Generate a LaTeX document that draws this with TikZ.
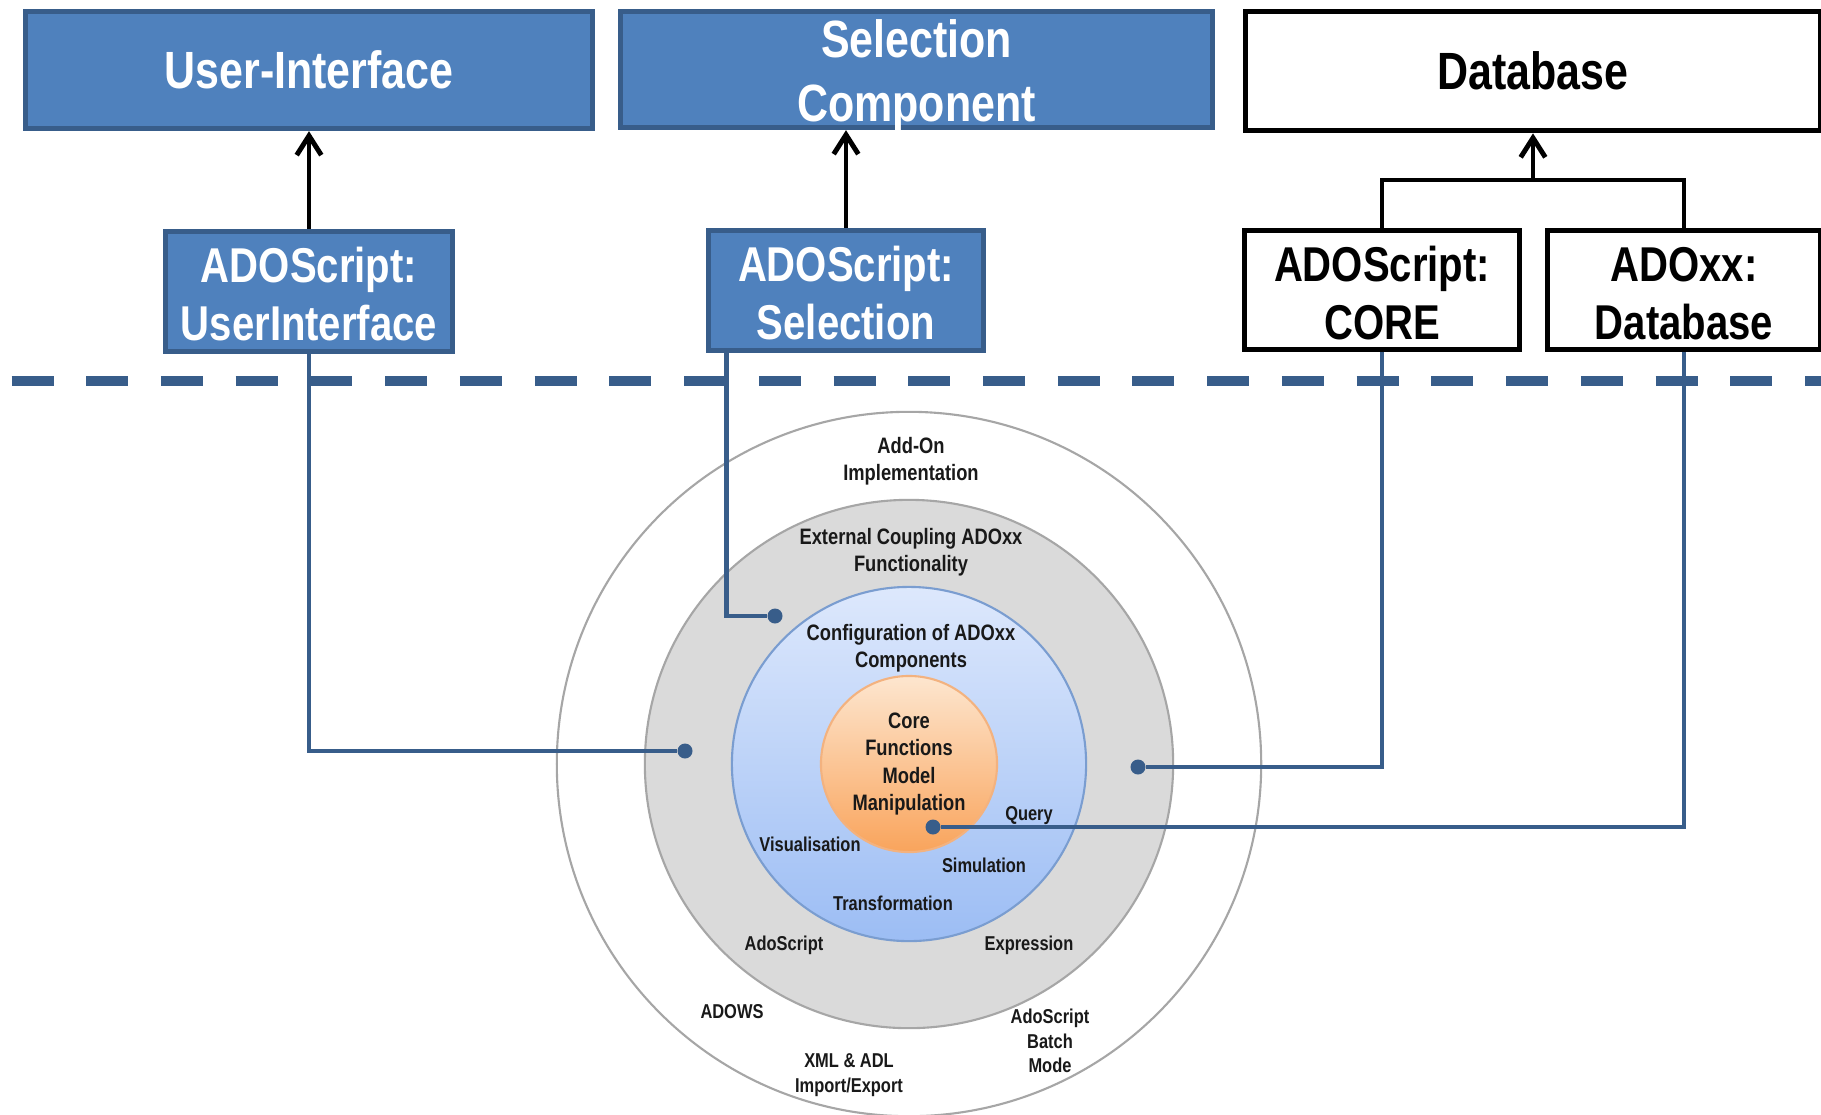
\documentclass[tikz,border=0pt]{standalone}
\usepackage{fontspec}
\usetikzlibrary{arrows.meta}
\newfontfamily\narrowsans[FakeStretch=0.82]{Liberation Sans}
\definecolor{boxblue}{HTML}{4F81BD}
\definecolor{boxedge}{HTML}{385D8A}
\definecolor{ringgray}{HTML}{DADADA}
\definecolor{ringedge}{HTML}{A6A6A6}
\definecolor{bluetop}{HTML}{DDE8FC}
\definecolor{bluebot}{HTML}{9CBDF4}
\definecolor{blueedge}{HTML}{7A9DD0}
\definecolor{coretop}{HTML}{FDE6CF}
\definecolor{corebot}{HTML}{F9A45C}
\definecolor{coreedge}{HTML}{F3B27F}
\newcommand\headfont{\narrowsans\bfseries\fontsize{14.9}{18.2}\selectfont}
\newcommand\partfont{\narrowsans\bfseries\fontsize{13.9}{16.5}\selectfont}
\newcommand\ringfont{\narrowsans\bfseries\fontsize{6.35}{7.7}\selectfont}
\newcommand\ringsmallfont{\narrowsans\bfseries\fontsize{5.7}{6.9}\selectfont}

\begin{document}
\begin{tikzpicture}[x=0.01cm, y=-0.01cm,
  bluebox/.style={draw=boxedge, fill=boxblue, line width=1.5pt, text=white, align=center, inner sep=0pt},
  whitebox/.style={draw=black, fill=white, line width=1.6pt, align=center, inner sep=0pt},
  ring/.style={circle, line width=0.6pt, inner sep=0pt},
  ringlabel/.style={font=\ringfont, align=center, inner sep=0pt, text=black!90},
  ringsmall/.style={ringlabel, font=\ringsmallfont},
  link/.style={draw=boxedge, line width=1.4pt},
  joint/.style={circle, fill=boxedge, inner sep=0pt, minimum size=0.15cm},
  uparrow/.style={line width=1.4pt, -{Straight Barb[length=5.5pt,width=7pt]}}]
\useasboundingbox (0,0) rectangle (1821,1114);

\node[bluebox, font=\headfont, minimum width=5.67cm, minimum height=1.17cm] (uitop) at (309,70) {User-Interface};
\node[bluebox, font=\headfont, minimum width=5.92cm, minimum height=1.16cm] (seltop) at (916.5,69.5) {\rule{0pt}{11.5pt}Selection\\\raisebox{0pt}[\height][0pt]{Component}};
\node[whitebox, font=\headfont, minimum width=5.75cm, minimum height=1.19cm] (dbtop) at (1533,71) {Database};

\node[bluebox, font=\partfont, minimum width=2.87cm, minimum height=1.2cm] (uisub) at (309,291.5) {\rule{0pt}{11.6pt}ADOScript:\\UserInterface};
\node[bluebox, font=\partfont, minimum width=2.75cm, minimum height=1.2cm] (selsub) at (846,290.5) {\rule{0pt}{11.6pt}ADOScript:\\Selection};
\node[whitebox, font=\partfont, minimum width=2.75cm, minimum height=1.19cm] (coresub) at (1382,290) {\rule{0pt}{11.6pt}ADOScript:\\CORE};
\node[whitebox, font=\partfont, minimum width=2.73cm, minimum height=1.19cm] (dbsub) at (1684,290) {\rule{0pt}{11.6pt}ADOxx:\\Database};

\draw[uparrow] (uisub.north) -- (uitop.south);
\draw[uparrow] (selsub.north) -- (selsub.north |- seltop.south);
\coordinate (fork) at (1533,180);
\draw[line width=1.4pt] (coresub.north) |- (fork) -| (dbsub.north);
\draw[uparrow] (fork) -- (dbtop.south);

\coordinate (sepL) at (11.5,381);
\coordinate (sepR) at (1821,381);
\draw[boxedge, line width=3.1pt, dash pattern=on 11.95pt off 9.3pt] (sepL) -- (sepR);

\node[ring, draw=ringedge, fill=white, minimum size=7.04cm] (addonring) at (909,764) {};
\node[ring, draw=ringedge, fill=ringgray, minimum size=5.28cm] (extring) at (909,764) {};
\node[ring, draw=blueedge, top color=bluetop, bottom color=bluebot, minimum size=3.54cm] (configring) at (909,764) {};
\node[ring, draw=coreedge, top color=coretop, bottom color=corebot, minimum size=1.76cm] (corering) at (909,764) {};

\node[ringlabel] (addon) at (911,461) {Add-On\\Implementation};
\node[ringlabel] (extcoupling) at (911,552) {External Coupling ADOxx\\Functionality};
\node[ringlabel] (config) at (911,648) {Configuration of ADOxx\\Components};
\node[ringlabel] (corefn) at (909,764) {Core\\Functions\\Model\\Manipulation};
\node[ringsmall] (query) at (1029,816) {Query};
\node[ringsmall] (visual) at (810,844) {Visualisation};
\node[ringsmall] (simul) at (984,865) {Simulation};
\node[ringsmall] (transf) at (893,903) {Transformation};
\node[ringsmall] (adoscr) at (784,945) {AdoScript};
\node[ringsmall] (expr) at (1029,945) {Expression};
\node[ringsmall] (adows) at (732,1012) {ADOWS};
\node[ringsmall] (xmladl) at (849,1075) {XML \& ADL\\Import/Export};
\node[ringsmall] (batch) at (1050,1041) {AdoScript\\Batch\\Mode};

\node[joint] (jui) at (685,751) {};
\node[joint] (jsel) at (775,616) {};
\node[joint] (jcore) at (1138,767) {};
\node[joint] (jdb) at (933,827) {};
\draw[link] (uisub.south) |- (jui);
\draw[link] ([xshift=0.21cm]selsub.south west) |- (jsel);
\draw[link] (coresub.south) |- (jcore);
\draw[link] (dbsub.south) |- (jdb);
\end{tikzpicture}
\end{document}
